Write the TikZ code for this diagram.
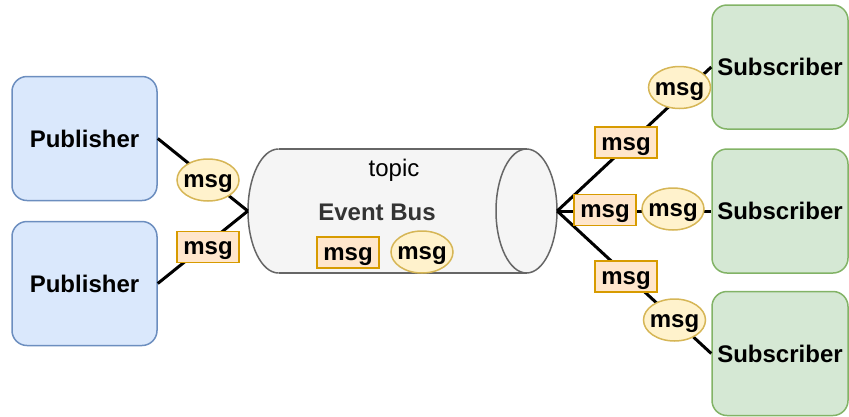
\documentclass[tikz,border=0pt]{standalone}
\usepackage{fontspec}
\setmainfont{Liberation Sans}
\usetikzlibrary{shapes.geometric}
\definecolor{pubfill}{HTML}{DAE8FC}
\definecolor{pubdraw}{HTML}{6C8EBF}
\definecolor{subfill}{HTML}{D5E8D4}
\definecolor{subdraw}{HTML}{82B366}
\definecolor{rectfill}{HTML}{FFE6CC}
\definecolor{rectdraw}{HTML}{D79B00}
\definecolor{ellfill}{HTML}{FFF2CC}
\definecolor{elldraw}{HTML}{D6B656}
\definecolor{busfill}{HTML}{F5F5F5}
\definecolor{busdraw}{HTML}{666666}
\definecolor{bustext}{HTML}{333333}
\tikzset{
  bigfont/.style={font=\fontsize{24}{28}\selectfont\bfseries},
  pubbox/.style={draw=pubdraw, fill=pubfill, line width=1.5pt, rounded corners=15pt,
    minimum width=145pt, minimum height=124pt, inner sep=0pt, bigfont},
  subbox/.style={draw=subdraw, fill=subfill, line width=1.5pt, rounded corners=15pt,
    minimum width=136pt, minimum height=124pt, inner sep=0pt, bigfont},
  msgrect/.style={draw=rectdraw, fill=rectfill, line width=1.5pt,
    minimum width=62pt, minimum height=31pt, inner sep=0pt, bigfont,
    text height=15pt, text depth=0pt},
  msgell/.style={ellipse, draw=elldraw, fill=ellfill, line width=1.5pt,
    minimum width=62pt, minimum height=42pt, inner xsep=-3pt, inner ysep=0pt, bigfont,
    text height=15pt, text depth=0pt},
  conn/.style={line width=3pt, black},
}
\begin{document}
\begin{tikzpicture}[x=1pt, y=-1pt]
\useasboundingbox (0,0) rectangle (849,416);
% publishers
\node[pubbox] (p1) at (84.5,138.5) {Publisher};
\node[pubbox] (p2) at (84.5,283.5) {Publisher};
% subscribers
\node[subbox] (s1) at (780,67) {Subscriber};
\node[subbox] (s2) at (780,211) {Subscriber};
\node[subbox] (s3) at (780,353.5) {Subscriber};
% event bus (cylinder)
\fill[busfill] (278.5,211) ellipse [x radius=30.5pt, y radius=62pt];
\fill[busfill] (278.5,149) rectangle (526.5,273);
\fill[busfill] (526.5,211) ellipse [x radius=30.5pt, y radius=62pt];
\begin{scope}
  \clip (240,140) rectangle (278.5,280);
  \draw[busdraw, line width=1.5pt] (278.5,211) ellipse [x radius=30.5pt, y radius=62pt];
\end{scope}
\draw[busdraw, line width=1.5pt] (278.5,149) -- (526.5,149);
\draw[busdraw, line width=1.5pt] (278.5,273) -- (526.5,273);
\draw[busdraw, line width=1.5pt] (526.5,211) ellipse [x radius=30.5pt, y radius=62pt];
\node[minimum width=309pt, minimum height=124pt, inner sep=0pt] (bus) at (402.5,211) {};
\node[font=\fontsize{24}{28}\selectfont, text=black] (topic) at (394,170) {topic};
\node[bigfont, text=bustext] (eb) at (377,212) {Event Bus};
% connectors
\draw[conn] (p1.east) -- (bus.west);
\draw[conn] (p2.east) -- (bus.west);
\draw[conn] (bus.east) -- (s1.west);
\draw[conn] (bus.east) -- (s2.west);
\draw[conn] (bus.east) -- (s3.west);
% messages
\node[msgell] (m1) at (208,180) {msg};
\node[msgrect] (m2) at (208,247) {msg};
\node[msgrect] (m3) at (348,252.5) {msg};
\node[msgell] (m4) at (422,252) {msg};
\node[msgrect] (m5) at (626,142.5) {msg};
\node[msgrect] (m6) at (605,210) {msg};
\node[msgrect] (m7) at (626,276.5) {msg};
\node[msgell] (m8) at (679.5,87.5) {msg};
\node[msgell] (m9) at (673,209) {msg};
\node[msgell] (m10) at (674.5,320) {msg};
\end{tikzpicture}
\end{document}
